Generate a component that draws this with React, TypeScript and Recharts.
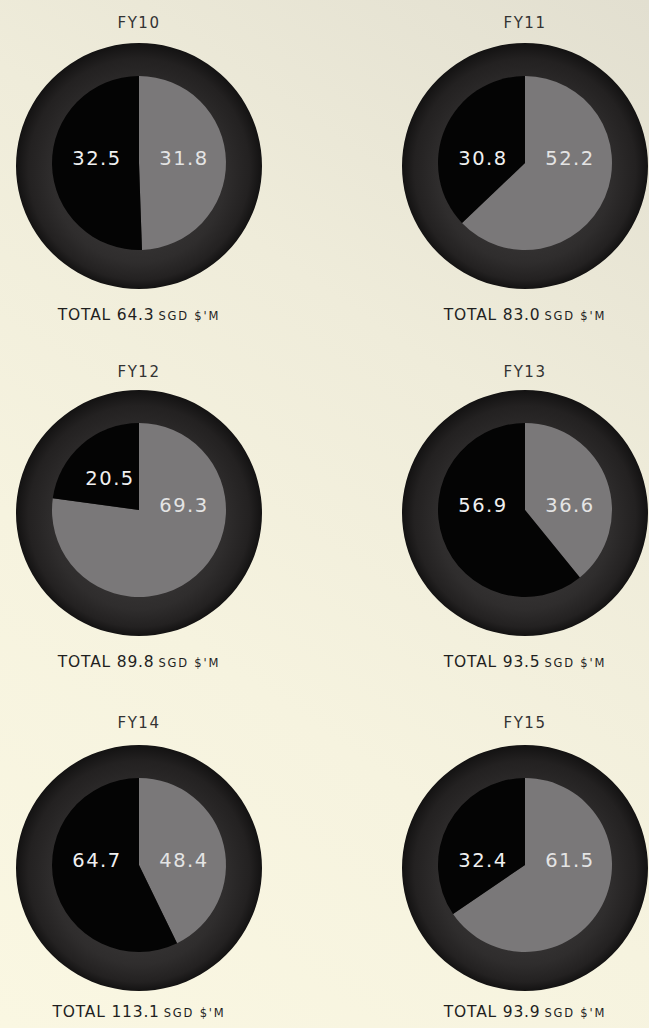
import React from 'react';
import { PieChart, Pie, Cell } from 'recharts';

const years = ['FY10', 'FY11', 'FY12', 'FY13', 'FY14', 'FY15'];
const blackValues = [32.5, 30.8, 20.5, 56.9, 64.7, 32.4];
const greyValues = [31.8, 52.2, 69.3, 36.6, 48.4, 61.5];
const unitLabel = "SGD $'M";

const colX = [139, 525];
const rowTitleY = [23, 372, 723];
const rowPieY = [166, 513, 868];
const rowTotalY = [315, 662, 1012];

const BOX = 270;
const FONT = '"DejaVu Sans", Lato, sans-serif';

// which angle a label prefers inside its slice; falls back to the slice middle
const preferred: Record<string, { angle: number; dx: number; dy: number }> = {
  grey: { angle: 0, dx: 45, dy: -5 },
  black: { angle: 180, dx: -42, dy: -5 },
};

const inSlice = (a: number, start: number, end: number) => {
  const lo = Math.min(start, end);
  const hi = Math.max(start, end);
  for (let k = -2; k <= 2; k++) {
    const v = a + 360 * k;
    if (v >= lo && v <= hi) return true;
  }
  return false;
};

const renderLabel = (props: any) => {
  const { cx, cy, midAngle, startAngle, endAngle, payload, value } = props;
  const pref = preferred[payload.key];
  let x = cx + pref.dx;
  let y = cy + pref.dy;
  if (!inSlice(pref.angle, startAngle, endAngle)) {
    const r = 44;
    x = cx + r * Math.cos((-midAngle * Math.PI) / 180);
    y = cy + r * Math.sin((-midAngle * Math.PI) / 180) + 2;
  }
  return (
    <text
      x={x}
      y={y}
      textAnchor="middle"
      dominantBaseline="central"
      fill={payload.key === 'grey' ? '#e4e4e4' : '#f0f0f0'}
      style={{ fontFamily: FONT, fontSize: 19.5, letterSpacing: 1.5 }}
    >
      {value.toFixed(1)}
    </text>
  );
};

const YearPie = ({ i }: { i: number }) => {
  const col = i % 2;
  const row = Math.floor(i / 2);
  const x = colX[col];
  const data = [
    { key: 'grey', value: greyValues[i] },
    { key: 'black', value: blackValues[i] },
  ];
  const total = (blackValues[i] + greyValues[i]).toFixed(1);
  const gid = `ring-${i}`;
  return (
    <>
      <div
        style={{
          position: 'absolute',
          left: x - 60,
          width: 120,
          top: rowTitleY[row] - 10,
          height: 20,
          lineHeight: '20px',
          textAlign: 'center',
          fontFamily: FONT,
          fontSize: 15,
          letterSpacing: 1.5,
          color: '#333',
        }}
      >
        {years[i]}
      </div>
      <div style={{ position: 'absolute', left: x - BOX / 2, top: rowPieY[row] - BOX / 2 }}>
        <PieChart width={BOX} height={BOX} margin={{ top: 0, right: 0, bottom: 0, left: 0 }}>
          <defs>
            <radialGradient id={gid} cx="50%" cy="50%" r="50%" fx="50%" fy="64%">
              <stop offset="0%" stopColor="#403e3e" />
              <stop offset="70%" stopColor="#2f2d2d" />
              <stop offset="90%" stopColor="#232121" />
              <stop offset="100%" stopColor="#131212" />
            </radialGradient>
          </defs>
          <Pie
            data={[{ key: 'ring', value: 1 }]}
            dataKey="value"
            cx={BOX / 2}
            cy={BOX / 2}
            outerRadius={123}
            innerRadius={0}
            stroke="none"
            isAnimationActive={false}
          >
            <Cell fill={`url(#${gid})`} />
          </Pie>
          <Pie
            data={data}
            dataKey="value"
            cx={BOX / 2}
            cy={BOX / 2 - 3}
            outerRadius={87}
            innerRadius={0}
            startAngle={90}
            endAngle={-270}
            stroke="none"
            labelLine={false}
            label={renderLabel}
            isAnimationActive={false}
          >
            <Cell fill="#7a7879" />
            <Cell fill="#040404" />
          </Pie>
        </PieChart>
      </div>
      <div
        style={{
          position: 'absolute',
          left: x - 130,
          width: 260,
          top: rowTotalY[row] - 10,
          height: 20,
          lineHeight: '20px',
          textAlign: 'center',
          fontFamily: FONT,
          color: '#1f1f1f',
          whiteSpace: 'nowrap',
        }}
      >
        <span style={{ fontSize: 15.5, letterSpacing: 0.8 }}>TOTAL {total}</span>
        <span style={{ fontSize: 11.5, letterSpacing: 1.8, marginLeft: 4 }}>{unitLabel}</span>
      </div>
    </>
  );
};

export default function App() {
  return (
    <div
      style={{
        position: 'absolute',
        left: 0,
        top: 0,
        width: 649,
        height: 1028,
        overflow: 'hidden',
        background: 'linear-gradient(215deg, #e2dfd0 0%, #efecda 35%, #f6f3df 65%, #faf7e2 100%)',
      }}
    >
      {years.map((_, i) => (
        <YearPie key={years[i]} i={i} />
      ))}
    </div>
  );
}
